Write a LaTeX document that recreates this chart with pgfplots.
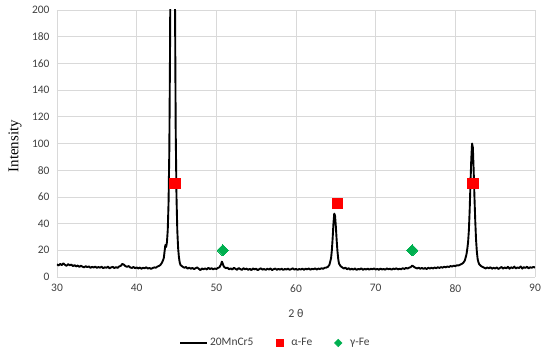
\documentclass[border=0pt]{standalone}
\usepackage{fontspec}
\setmainfont{Carlito}
\newfontfamily\timesf{Liberation Serif}
\usepackage{pgfplots}
\pgfplotsset{compat=1.18}
\definecolor{exgreen}{RGB}{0,176,80}
\definecolor{gridc}{RGB}{217,217,217}
\begin{document}
\begin{tikzpicture}
\begin{axis}[
  scale only axis, width=478bp, height=267bp,
  xmin=30, xmax=90, ymin=0, ymax=200,
  xtick={30,40,...,90}, ytick={0,20,...,200},
  grid=major, grid style={gridc, line width=0.8pt},
  axis line style={draw=none},
  major tick length=0pt,
  /pgf/number format/assume math mode=true,
  tick label style={font=\fontsize{11.5}{13}\selectfont, text=black!75},
  yticklabel style={xshift=-4bp},
  xticklabel style={yshift=-4bp},
  xlabel={2 θ}, xlabel style={font=\fontsize{12}{14}\selectfont, text=black!75, at={(axis description cs:0.5,-0.135)}, anchor=center},
  ylabel={\timesf Intensity}, ylabel style={font=\fontsize{15}{17}\selectfont, at={(axis description cs:-0.088,0.49)}, anchor=center},
  legend columns=3,
  legend style={draw=none, at={(axis description cs:0.457,-0.247)}, anchor=center, font=\fontsize{11.5}{13}\selectfont, text=black!75, /tikz/every even column/.append style={column sep=14bp}},
]
\addplot[black, line width=1.9pt, line join=round, mark=none, legend image code/.code={\draw[black, line width=1.9pt] (0bp,0bp) -- (27bp,0bp);}] table {
30.0 9.5
30.2 8.6
30.4 9.8
30.6 8.9
30.8 10.2
31.0 9.1
31.2 8.4
31.4 9.6
31.6 8.8
31.8 9.3
32.0 8.2
32.2 8.9
32.4 7.9
32.6 8.6
32.8 7.6
33.0 8.4
33.2 7.8
33.4 7.2
33.6 8.1
33.8 7.4
34.0 7.9
34.2 6.9
34.4 7.6
34.6 7.1
34.8 7.8
35.0 6.8
35.2 7.5
35.4 7.0
35.6 7.7
35.8 6.6
36.0 7.3
36.2 6.9
36.4 7.8
36.6 6.5
36.8 7.2
37.0 7.6
37.2 6.7
37.4 7.4
37.6 6.8
37.8 7.9
38.0 8.3
38.2 9.8
38.4 9.2
38.6 8.1
38.8 7.6
39.0 8.2
39.2 7.1
39.4 6.8
39.6 7.5
39.8 6.6
40.0 7.2
40.2 6.4
40.4 7.1
40.6 6.2
40.8 6.9
41.0 6.5
41.2 7.3
41.4 6.3
41.6 6.8
41.8 6.1
42.0 6.7
42.2 7.2
42.4 6.9
42.6 7.8
42.8 8.3
43.0 9.1
43.2 11
43.4 14
43.5 19
43.6 24
43.7 22.5
43.8 26
43.9 35
44.0 55
44.1 95
44.2 180
44.3 350
44.4 600
44.5 700
44.6 650
44.7 420
44.8 220
44.9 110
45.0 60
45.1 35
45.2 22
45.3 15
45.4 11
45.5 9
45.7 8
45.9 7.2
46.0 6.9
46.2 7.5
46.4 6.3
46.6 7.0
46.8 6.2
47.0 6.8
47.2 5.9
47.4 6.6
47.6 7.2
47.8 6.1
48.0 5.2
48.2 6.4
48.4 5.8
48.6 6.5
48.8 5.6
49.0 6.9
49.2 6.0
49.4 6.6
49.6 5.7
49.8 6.4
50.0 6.0
50.2 6.8
50.4 7.3
50.6 9.6
50.7 11.5
50.8 10.2
50.9 8.4
51.0 7.4
51.2 6.6
51.4 7.0
51.6 5.8
51.8 6.5
52.0 5.6
52.2 6.9
52.4 6.1
52.6 5.4
52.8 6.7
53.0 6.0
53.2 5.3
53.4 6.6
53.6 5.8
53.8 6.3
54.0 5.4
54.2 6.1
54.4 5.2
54.6 6.4
54.8 5.7
55.0 6.2
55.2 5.1
55.4 5.9
55.6 6.5
55.8 5.5
56.0 6.0
56.2 5.3
56.4 6.2
56.6 5.6
56.8 6.4
57.0 5.2
57.2 5.9
57.4 6.3
57.6 5.4
57.8 6.1
58.0 5.5
58.2 6.2
58.4 5.3
58.6 6.0
58.8 5.6
59.0 6.3
59.2 5.4
59.4 5.9
59.6 6.5
59.8 5.5
60.0 6.1
60.2 5.3
60.4 6.0
60.6 5.6
60.8 6.3
61.0 5.4
61.2 6.2
61.4 5.7
61.6 6.4
61.8 5.5
62.0 6.1
62.2 5.8
62.4 6.5
62.6 5.6
62.8 6.3
63.0 5.9
63.2 6.6
63.4 6.1
63.6 6.9
63.8 7.0
64.0 7.6
64.2 9.2
64.4 14
64.5 20
64.6 29
64.7 40
64.8 47.5
64.9 46
65.0 38
65.1 28
65.2 19.5
65.3 13.5
65.4 10
65.6 8.1
65.8 7.2
66.0 6.4
66.2 7.0
66.4 5.8
66.6 6.6
66.8 5.5
67.0 6.2
67.2 5.6
67.4 6.4
67.6 5.3
67.8 6.0
68.0 5.7
68.2 6.5
68.4 5.4
68.6 6.1
68.8 5.6
69.0 6.3
69.2 5.5
69.4 6.2
69.6 5.8
69.8 6.4
70.0 5.6
70.2 6.1
70.4 5.4
70.6 6.3
70.8 5.7
71.0 6.0
71.2 5.5
71.4 6.4
71.6 5.8
71.8 6.2
72.0 5.5
72.2 6.3
72.4 5.9
72.6 6.5
72.8 5.7
73.0 6.2
73.2 5.8
73.4 6.6
73.6 6.0
73.8 6.8
74.0 6.3
74.2 7.0
74.4 7.4
74.6 8.6
74.8 7.6
75.0 6.9
75.2 6.4
75.4 7.0
75.6 6.2
75.8 6.8
76.0 6.1
76.2 6.7
76.4 6.0
76.6 6.9
76.8 6.3
77.0 7.0
77.2 6.4
77.4 7.1
77.6 6.6
77.8 7.3
78.0 6.8
78.2 7.4
78.4 7.0
78.6 7.7
78.8 7.2
79.0 7.9
79.2 7.5
79.4 8.2
79.6 7.8
79.8 8.5
80.0 8.1
80.2 8.8
80.4 8.6
80.6 9.2
80.8 9.8
81.0 10.6
81.2 12.5
81.4 17
81.5 21
81.6 26
81.7 35
81.8 50
81.9 70
82.0 88
82.1 100
82.2 97
82.3 80
82.4 60
82.5 42
82.6 28
82.7 19
82.8 13.5
82.9 11
83.0 9.6
83.2 8.3
83.4 7.6
83.6 7.0
83.8 6.4
84.0 7.1
84.2 6.5
84.4 7.3
84.6 6.2
84.8 6.9
85.0 6.4
85.2 7.2
85.4 6.0
85.6 6.8
85.8 7.5
86.0 6.3
86.2 7.1
86.4 6.5
86.6 7.6
86.8 6.2
87.0 7.3
87.2 6.6
87.4 7.8
87.6 6.4
87.8 7.2
88.0 6.7
88.2 7.9
88.4 6.3
88.6 7.4
88.8 6.8
89.0 7.7
89.2 6.5
89.4 7.3
89.6 6.9
89.8 7.6
90.0 7.0
};
\addlegendentry{20MnCr5}
\addplot[only marks, mark=square*, mark size=5.2bp, color=red, mark options={line width=0pt}, legend image code/.code={\path[draw=none, fill=none] (-10bp,0bp) -- (10bp,0bp); \fill[red] (-3.4bp,-3.4bp) rectangle (3.4bp,3.4bp);}] coordinates {(44.8,70) (65.2,55) (82.2,70)};
\addlegendentry{α-Fe}
\addplot[only marks, mark=square*, mark size=4bp, color=exgreen, mark options={rotate=45, line width=0pt}, legend image code/.code={\path[draw=none, fill=none] (-10bp,0bp) -- (10bp,0bp); \fill[exgreen] (0bp,-3.8bp) -- (3.8bp,0bp) -- (0bp,3.8bp) -- (-3.8bp,0bp) -- cycle;}] coordinates {(50.8,20) (74.6,20)};
\addlegendentry{γ-Fe}
\coordinate (o) at (rel axis cs:0,0);
\coordinate (e) at (rel axis cs:1,1);
\end{axis}
\pgfresetboundingbox
\path[use as bounding box] ([shift={(-57bp,-78bp)}]o) rectangle ([shift={(15bp,10bp)}]e);
\end{tikzpicture}
\end{document}
